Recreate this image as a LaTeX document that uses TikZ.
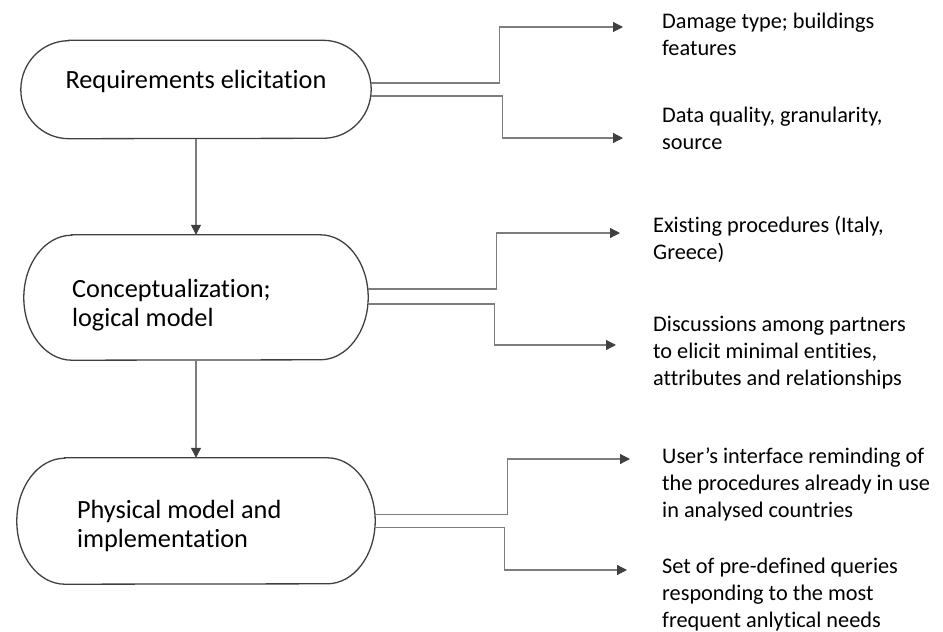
\documentclass[tikz,border=0pt]{standalone}
\usepackage{fontspec}
\setmainfont{Carlito}[Ligatures={NoCommon}]
\usetikzlibrary{arrows.meta,positioning,calc}
\definecolor{boxgray}{RGB}{64,64,64}
\definecolor{linegray}{RGB}{125,125,125}
\newcommand\stagefont{\fontsize{26.3}{29}\selectfont}
\newcommand\notefont{\fontsize{22.3}{27}\selectfont}
% terminator outline round a stage node: #1 node, #2 half height
\newcommand\stageoutline[2]{%
  \draw[boxgray,line width=1.3pt]
    ([xshift=48pt]#1.north west) -- ([xshift=-48pt]#1.north east)
    arc[start angle=90,end angle=-90,x radius=48pt,y radius=#2]
    -- ([xshift=48pt]#1.south west)
    arc[start angle=270,end angle=90,x radius=48pt,y radius=#2] -- cycle;}

\begin{document}
\begin{tikzpicture}[x=1pt,y=-1pt,
  stage/.style={font=\stagefont,inner ysep=0pt},
  note/.style={font=\notefont,anchor=base west,align=flush left,text width=320pt,inner sep=0pt},
  conn/.style={linegray,line width=1.2pt,
    -{Triangle[length=10pt,width=10pt,color=boxgray,fill=boxgray]}}]
  \useasboundingbox (0,0) rectangle (943,632);

  % Stages
  \node[stage,text width=310pt,inner xsep=20pt,align=flush center,minimum height=98pt,
        text height=18pt,text depth=21pt] (b1) at (196,89.5) {Requirements elicitation};
  \node[stage,text width=248pt,inner xsep=48pt,align=flush left,minimum height=125pt,
        text height=34pt] (b2) at (196,297.5) {Conceptualization;\\logical model};
  \node[stage,text width=238pt,inner xsep=60pt,align=flush left,minimum height=126pt,
        text height=29pt] (b3) at (196,521) {Physical model and\\implementation};
  \stageoutline{b1}{49pt}
  \stageoutline{b2}{62.5pt}
  \stageoutline{b3}{63pt}

  \draw[conn] (b1) -- (b2);
  \draw[conn] (b2) -- (b3);

  % Notes
  \node[note] (t1) at (662,28) {Damage type; buildings\\features};
  \node[note] (t2) at (662,122) {Data quality, granularity,\\source};
  \node[note] (t3) at (653,232) {Existing procedures (Italy,\\Greece)};
  \node[note] (t4) at (653,331) {Discussions among partners\\to elicit minimal entities,\\attributes and relationships};
  \node[note] (t5) at (662,463) {User’s interface reminding of\\the procedures already in use\\in analysed countries};
  \node[note] (t6) at (662,573) {Set of pre-defined queries\\responding to the most\\frequent anlytical needs};

  \coordinate (a1) at (623,27);
  \coordinate (a2) at (623,138);
  \coordinate (a3) at (620,233);
  \coordinate (a4) at (616,345);
  \coordinate (a5) at (630,459);
  \coordinate (a6) at (627,570);

  % Branches
  \draw[conn] ([yshift=6.5pt]b1.east) -- ++(128,0) |- (a1);
  \draw[conn] ([yshift=-6.5pt]b1.east) -- ++(131,0) |- (a2);
  \draw[conn] ([yshift=8.5pt]b2.east) -- ++(128,0) |- (a3);
  \draw[conn] ([yshift=-6.5pt]b2.east) -- ++(126,0) |- (a4);
  \draw[conn] ([yshift=6.5pt]b3.east) -- ++(132,0) |- (a5);
  \draw[conn] ([yshift=-6.5pt]b3.east) -- ++(129,0) |- (a6);
\end{tikzpicture}
\end{document}
